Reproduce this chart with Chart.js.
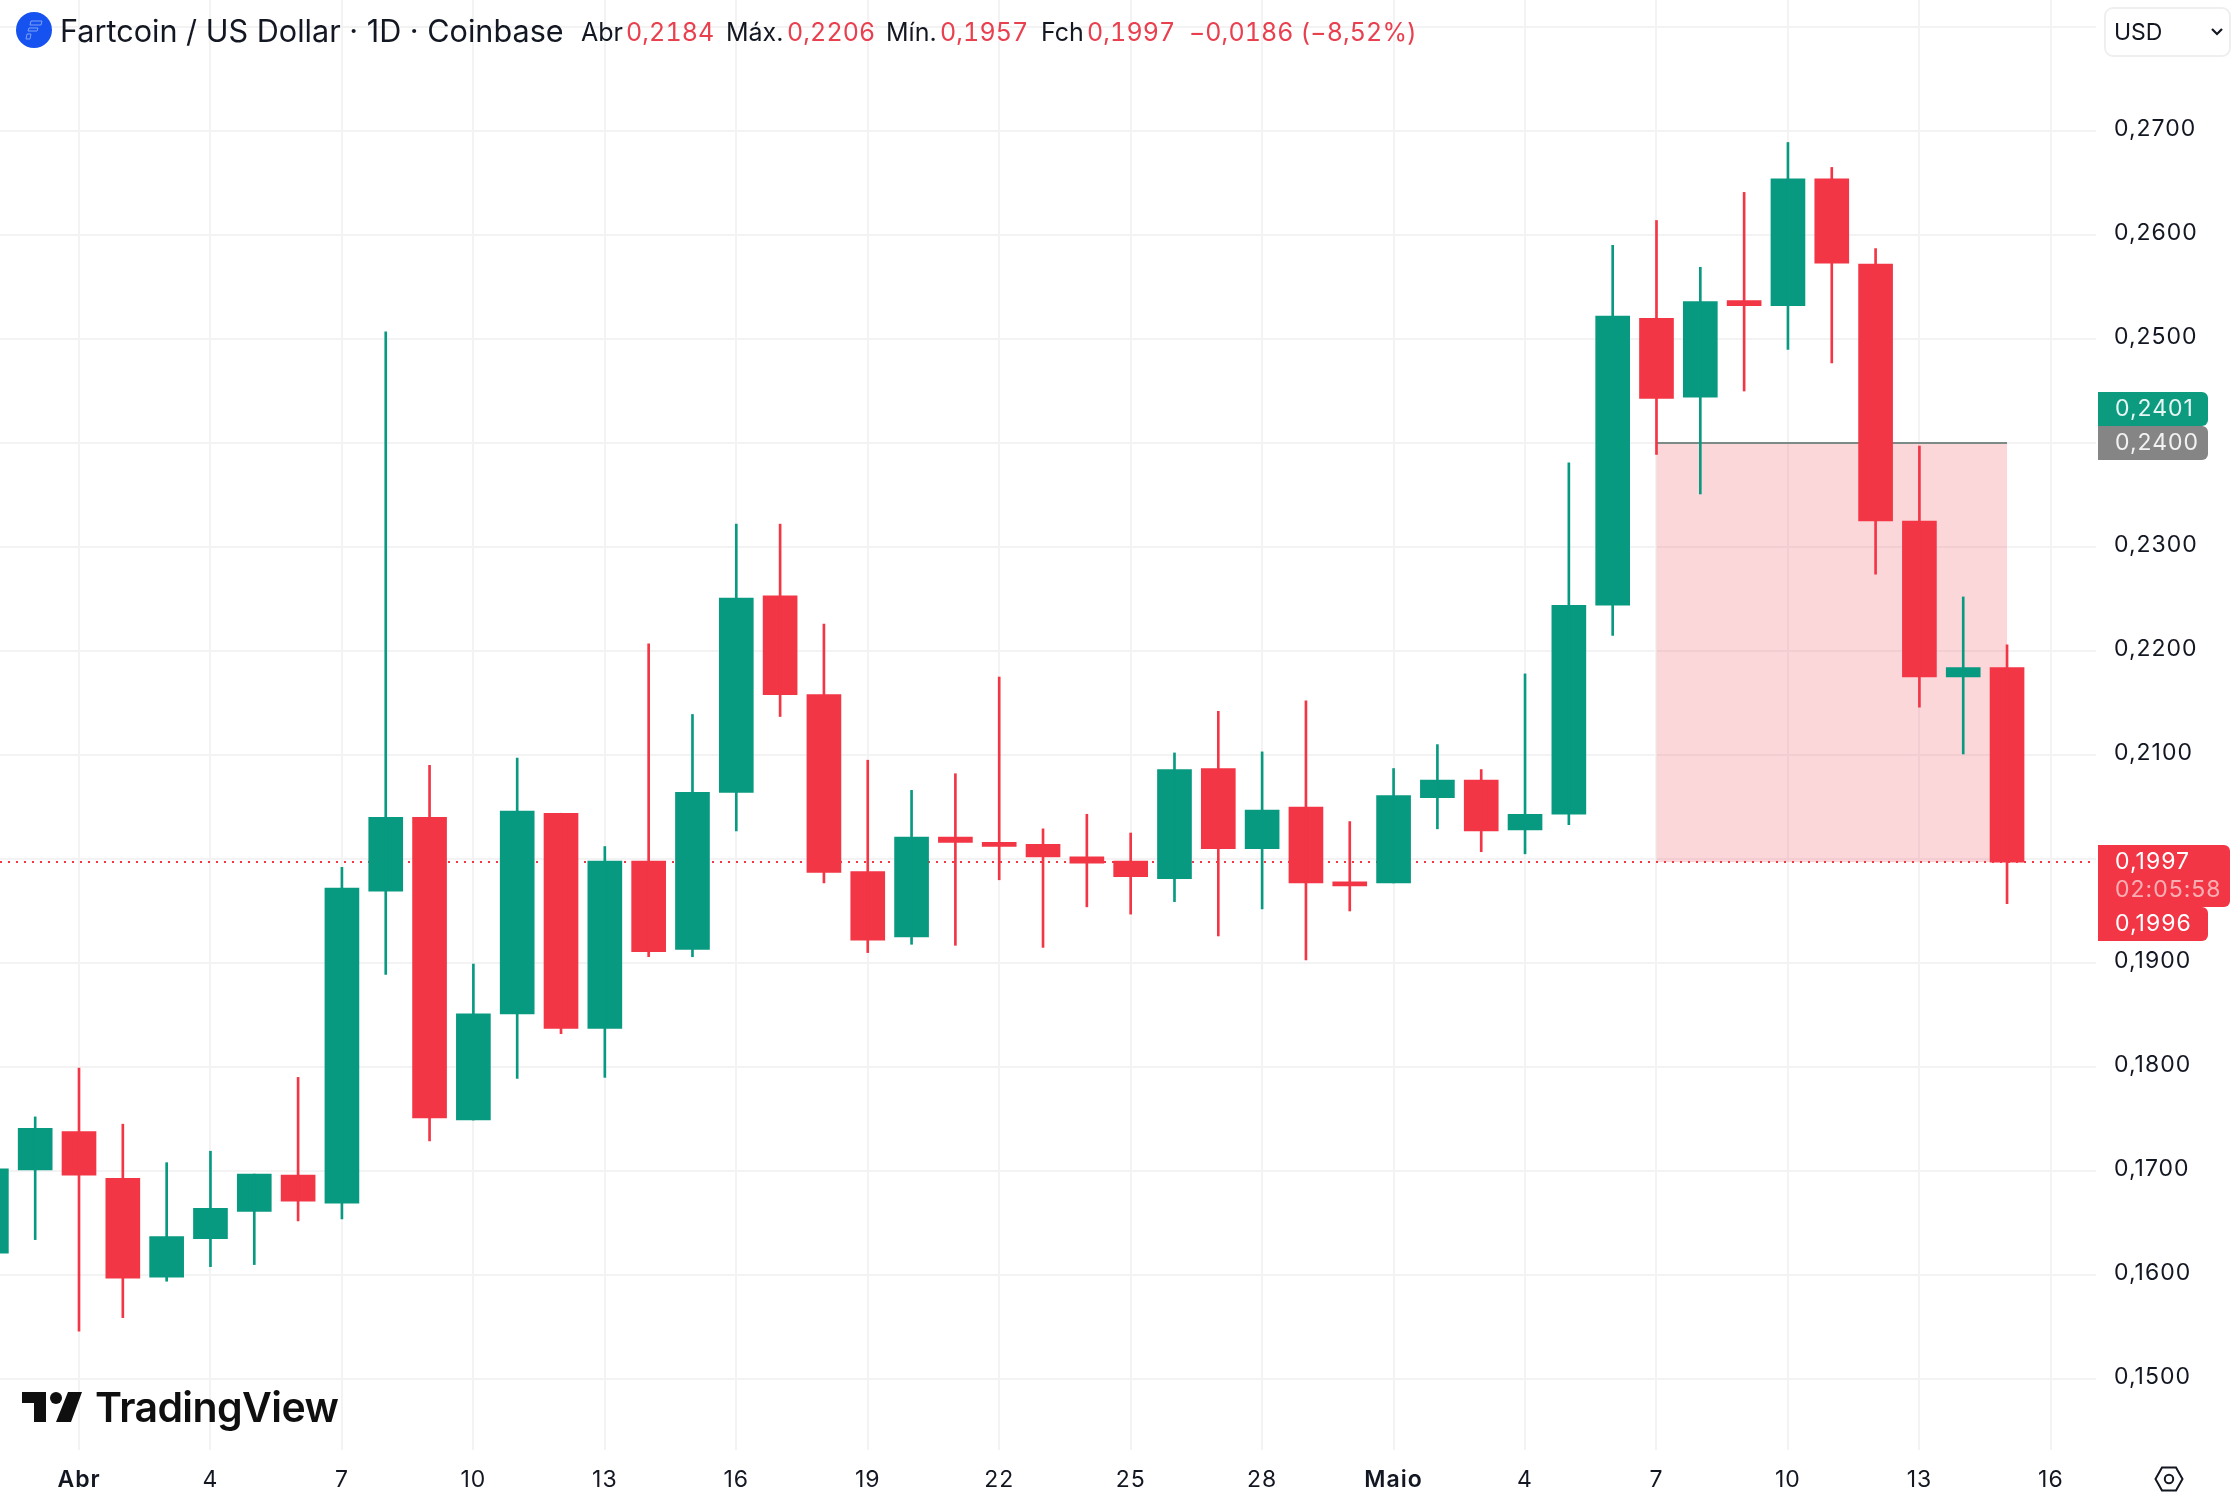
<!DOCTYPE html>
<html>

<head>
    <title>Fartcoin / US Dollar</title>
    <script src="https://cdn.jsdelivr.net/npm/chart.js"></script>
    <style>
        html, body {
            margin: 0;
            padding: 0;
            background: #fff;
        }

        #wrap {
            position: relative;
            width: 2240px;
            height: 1502px;
            overflow: hidden;
            font-family: Inter, sans-serif;
            color: #131722;
        }

        #graph {
            position: absolute;
            left: 0;
            top: 0;
        }

        .head {
            position: absolute;
            top: 15px;
            font-size: 25px;
            line-height: 34px;
            white-space: nowrap;
        }

        .red {
            color: #e8404f;
            font-variant-numeric: tabular-nums;
            letter-spacing: 0.1px;
        }

        #title {
            left: 60px;
            top: 12px;
            font-size: 30.6px;
            line-height: 38px;
        }

        #usd {
            position: absolute;
            left: 2104px;
            top: 7px;
            width: 123px;
            height: 46px;
            border: 2px solid #eeeff1;
            border-radius: 9px;
            font-size: 23px;
            line-height: 46px;
            text-indent: 8px;
        }

        #logoText {
            position: absolute;
            left: 95px;
            top: 1382px;
            font-size: 41px;
            line-height: 50px;
            font-weight: 600;
            letter-spacing: -0.6px;
            color: #0f0f0f;
        }

        svg {
            position: absolute;
        }
    </style>
</head>

<body>
    <div id="wrap">
        <canvas id="graph" width="2240" height="1502"></canvas>

        <svg style="left:16px;top:12px" width="36" height="36" viewBox="0 0 36 36">
            <circle cx="18" cy="18" r="18" fill="#1652f0"></circle>
            <path d="M15 9h11l-1 4H14zM13 16h9l-1 3h-9zM11 22h4l-1 5h-4z" fill="none" stroke="#7fa0f7" stroke-width="1"></path>
        </svg>
        <div class="head" id="title">Fartcoin / US Dollar · 1D · Coinbase</div>
        <div class="head" style="left:581px">Abr</div>
        <div class="head red" style="left:626px">0,2184</div>
        <div class="head" style="left:726px">Máx.</div>
        <div class="head red" style="left:787px">0,2206</div>
        <div class="head" style="left:886px">Mín.</div>
        <div class="head red" style="left:940px">0,1957</div>
        <div class="head" style="left:1041px">Fch</div>
        <div class="head red" style="left:1087px">0,1997</div>
        <div class="head red" style="left:1189px">−0,0186 (−8,52%)</div>

        <div id="usd">USD</div>
        <svg style="left:2210px;top:27px" width="14" height="10" viewBox="0 0 14 10">
            <path d="M2 2l5 5 5-5" fill="none" stroke="#131722" stroke-width="2.2"></path>
        </svg>

        <svg style="left:22px;top:1392px" width="60" height="30" viewBox="0 0 60 30">
            <path d="M0 0H24V30H12V11H0zM46 0H60L49 30H34z" fill="#0f0f0f"></path>
            <circle cx="34" cy="6" r="6" fill="#0f0f0f"></circle>
        </svg>
        <div id="logoText">TradingView</div>

        <svg style="left:2154px;top:1466px" width="30" height="26" viewBox="0 0 30 26">
            <path d="M8 1.5H22L28.5 13 22 24.5H8L1.5 13z" fill="none" stroke="#131722" stroke-width="2"></path>
            <circle cx="15" cy="13" r="4.2" fill="none" stroke="#131722" stroke-width="2"></circle>
        </svg>
    </div>

    <script>
        // day number counted from 1 April, one candle per day
        const days = [-2, -1, 0, 1, 2, 3, 4, 5, 6, 7, 8, 9, 10, 11, 12, 13, 14, 15, 16, 17, 18, 19, 20, 21, 22,
            23, 24, 25, 26, 27, 28, 29, 30, 31, 32, 33, 34, 35, 36, 37, 38, 39, 40, 41, 42, 43, 44];
        const opens = [0.1621, 0.1701, 0.1738, 0.1693, 0.1598, 0.1635, 0.1661, 0.1696, 0.1669, 0.1969, 0.2040, 0.1749,
            0.1851, 0.2044, 0.1837, 0.1998, 0.1913, 0.2064, 0.2253, 0.2158, 0.1988, 0.1925, 0.2021, 0.2016, 0.2014,
            0.2002, 0.1998, 0.1981, 0.2087, 0.2010, 0.2050, 0.1978, 0.1977, 0.2059, 0.2076, 0.2028, 0.2043, 0.2244,
            0.2520, 0.2444, 0.2537, 0.2532, 0.2654, 0.2572, 0.2325, 0.2175, 0.2184];
        const highs = [0.1702, 0.1752, 0.1799, 0.1745, 0.1708, 0.1719, 0.1697, 0.1790, 0.1992, 0.2507, 0.2090, 0.1899,
            0.2097, 0.2044, 0.2012, 0.2207, 0.2139, 0.2322, 0.2322, 0.2226, 0.2095, 0.2066, 0.2082, 0.2175, 0.2029,
            0.2043, 0.2025, 0.2102, 0.2142, 0.2103, 0.2152, 0.2036, 0.2087, 0.2110, 0.2086, 0.2178, 0.2381, 0.2590,
            0.2614, 0.2569, 0.2641, 0.2689, 0.2665, 0.2587, 0.2397, 0.2252, 0.2206];
        const lows = [0.1621, 0.1634, 0.1546, 0.1559, 0.1594, 0.1608, 0.1610, 0.1652, 0.1654, 0.1889, 0.1729, 0.1749,
            0.1789, 0.1832, 0.1790, 0.1906, 0.1906, 0.2027, 0.2137, 0.1977, 0.1910, 0.1918, 0.1917, 0.1980, 0.1915,
            0.1954, 0.1947, 0.1959, 0.1926, 0.1952, 0.1903, 0.1950, 0.1977, 0.2029, 0.2007, 0.2005, 0.2033, 0.2215,
            0.2389, 0.2351, 0.2450, 0.2490, 0.2477, 0.2274, 0.2146, 0.2101, 0.1957];
        const closes = [0.1702, 0.1741, 0.1696, 0.1597, 0.1637, 0.1664, 0.1697, 0.1671, 0.1972, 0.2040, 0.1751, 0.1851,
            0.2046, 0.1837, 0.1998, 0.1911, 0.2064, 0.2251, 0.2158, 0.1987, 0.1922, 0.2021, 0.2016, 0.2012, 0.2002,
            0.1996, 0.1983, 0.2086, 0.2010, 0.2047, 0.1977, 0.1974, 0.2061, 0.2076, 0.2027, 0.2043, 0.2244, 0.2522,
            0.2443, 0.2536, 0.2532, 0.2654, 0.2573, 0.2325, 0.2175, 0.2184, 0.1997];

        const xTickValues = [0, 3, 6, 9, 12, 15, 18, 21, 24, 27, 30, 33, 36, 39, 42, 45];
        const xTickLabels = ['Abr', '4', '7', '10', '13', '16', '19', '22', '25', '28', 'Maio', '4', '7', '10', '13', '16'];
        const yTickValues = [0.15, 0.16, 0.17, 0.18, 0.19, 0.20, 0.21, 0.22, 0.23, 0.24, 0.25, 0.26, 0.27, 0.28];
        const yTickLabels = ['0,1500', '0,1600', '0,1700', '0,1800', '0,1900', '', '0,2100', '0,2200', '0,2300', '', '0,2500', '0,2600', '0,2700', ''];

        const zoneStart = 36;
        const zoneEnd = 44;
        const zoneTop = 0.24;
        const lastClose = 0.1997;

        const green = '#089981';
        const red = '#f23645';
        const gridColor = '#f3f3f4';
        const candleColors = days.map((d, i) => closes[i] >= opens[i] ? green : red);

        function tag(ctx, x, y, w, h, color) {
            ctx.fillStyle = color;
            ctx.beginPath();
            ctx.roundRect(x, y, w, h, [0, 6, 6, 0]);
            ctx.fill();
        }

        function tagText(ctx, text, y, color) {
            ctx.fillStyle = color;
            ctx.fillText(text, 2115, y);
        }

        // keep the chart area flush with the canvas, labels may stick out
        function noPadding(scale) {
            scale.paddingLeft = 0;
            scale.paddingRight = 0;
            scale.paddingTop = 0;
            scale.paddingBottom = 0;
        }

        // pink zone and dotted last price line go under the candles
        const zonePlugin = {
            id: 'zone',
            beforeDraw(chart) {
                chart.ctx.letterSpacing = '1px';
            },
            beforeDatasetsDraw(chart) {
                const { ctx, scales: { x, y }, chartArea } = chart;
                const left = x.getPixelForValue(zoneStart);
                const right = x.getPixelForValue(zoneEnd);
                const top = y.getPixelForValue(zoneTop);
                const bottom = y.getPixelForValue(lastClose);
                ctx.save();
                ctx.fillStyle = 'rgba(242, 54, 69, 0.2)';
                ctx.fillRect(left, top, right - left, bottom - top);
                ctx.strokeStyle = '#7d8b87';
                ctx.lineWidth = 2;
                ctx.beginPath();
                ctx.moveTo(left, top);
                ctx.lineTo(right, top);
                ctx.stroke();
                ctx.strokeStyle = red;
                ctx.setLineDash([2, 6]);
                ctx.beginPath();
                ctx.moveTo(chartArea.left, bottom);
                ctx.lineTo(chartArea.right, bottom);
                ctx.stroke();
                ctx.restore();
            }
        };

        // price tags on the right axis, stacked so they don't overlap
        const tagPlugin = {
            id: 'tags',
            afterDraw(chart) {
                const { ctx, scales: { y } } = chart;
                const grey = y.getPixelForValue(zoneTop);
                const last = y.getPixelForValue(lastClose);
                ctx.save();
                tag(ctx, 2098, grey - 51, 110, 34, '#0d9b80');
                tag(ctx, 2098, grey - 17, 110, 34, '#858585');
                tag(ctx, 2098, last + 45, 110, 34, red);
                tag(ctx, 2098, last - 17, 132, 62, red);
                ctx.font = '23px Inter, sans-serif';
                ctx.textBaseline = 'middle';
                tagText(ctx, '0,2401', grey - 34, '#e6f6f2');
                tagText(ctx, '0,2400', grey, '#f2f2f2');
                tagText(ctx, '0,1997', last, '#fff');
                tagText(ctx, '02:05:58', last + 28, 'rgba(255, 255, 255, 0.6)');
                tagText(ctx, '0,1996', last + 62, '#fff');
                ctx.restore();
            }
        };

        new Chart(document.getElementById('graph').getContext('2d'), {
            type: 'bar',
            data: {
                datasets: [{
                    label: 'wick',
                    data: days.map((d, i) => ({ x: d, y: [lows[i], highs[i]] })),
                    backgroundColor: candleColors,
                    barThickness: 2,
                    grouped: false
                }, {
                    label: 'body',
                    data: days.map((d, i) => ({ x: d, y: [opens[i], closes[i]] })),
                    backgroundColor: candleColors,
                    barThickness: 34,
                    grouped: false
                }]
            },
            options: {
                responsive: false,
                animation: false,
                devicePixelRatio: 1,
                events: [],
                plugins: {
                    legend: { display: false },
                    tooltip: { enabled: false }
                },
                scales: {
                    x: {
                        type: 'linear',
                        offset: false,
                        min: -1.803,
                        max: 46.03,
                        afterBuildTicks: scale => { scale.ticks = xTickValues.map(v => ({ value: v })); },
                        afterFit: scale => { scale.height = 52; noPadding(scale); },
                        border: { display: false },
                        grid: { color: gridColor, lineWidth: 2, drawTicks: false, offset: false },
                        ticks: {
                            autoSkip: false,
                            maxRotation: 0,
                            padding: 16,
                            color: '#131722',
                            font: ctx => {
                                const label = xTickLabels[ctx.index];
                                return { family: 'Inter', size: 23, weight: label === 'Abr' || label === 'Maio' ? '600' : '400' };
                            },
                            callback: (value, index) => xTickLabels[index]
                        }
                    },
                    y: {
                        type: 'linear',
                        position: 'right',
                        min: 0.14317,
                        max: 0.2826,
                        afterBuildTicks: scale => { scale.ticks = yTickValues.map(v => ({ value: v })); },
                        afterFit: scale => { scale.width = 144; noPadding(scale); },
                        border: { display: false },
                        grid: { color: gridColor, lineWidth: 2, drawTicks: false },
                        ticks: {
                            padding: 18,
                            labelOffset: -2,
                            color: '#131722',
                            font: { family: 'Inter', size: 23 },
                            callback: (value, index) => yTickLabels[index]
                        }
                    }
                }
            },
            plugins: [zonePlugin, tagPlugin]
        });
    </script>
</body>

</html>
